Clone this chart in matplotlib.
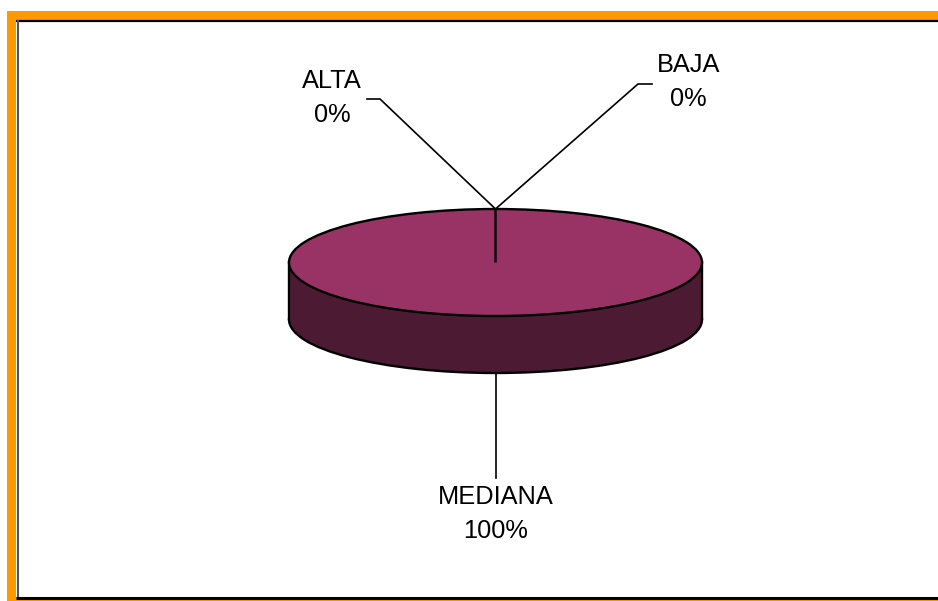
import matplotlib
matplotlib.use("Agg")
import matplotlib.pyplot as plt
from matplotlib.patches import Rectangle

# pie data, clockwise from the top
labels = ["BAJA", "MEDIANA", "ALTA"]
values = [0, 100, 0]
percents = ["0%", "100%", "0%"]

W, H = 938, 601
cx, cy = 495.5, 262.5  # centre of pie top, in pixels
rx, ry = 206.5, 53.5
depth = 57

orange = "#FF9900"
top_color = "#993366"
side_color = "#4D1A33"

fig = plt.figure(figsize=(W / 100, H / 100), dpi=100, facecolor="white")
plt.rcParams["font.family"] = ["Liberation Sans", "DejaVu Sans"]

# frame and leader lines live on an axes in pixel coordinates
bg = fig.add_axes([0, 0, 1, 1], zorder=0)
bg.set(xlim=(0, W), ylim=(H, 0))
bg.axis("off")
bg.add_patch(Rectangle((7, 11), W - 7 + 5, H - 11 + 5, fc=orange, ec="none"))
bg.add_patch(Rectangle((16, 20), W - 16 + 5, 577, fc="white", ec="none"))
bg.plot([16, W + 5], [21, 21], color="black", lw=1.6, solid_capstyle="butt")
bg.plot([17.5, 17.5], [20, 597], color="#555555", lw=1.5, solid_capstyle="butt")
bg.plot([16, W + 5], [598, 598], color="black", lw=2.2, solid_capstyle="butt")

# pie: one data unit is rx pixels across and ry pixels down
pie_ax = fig.add_axes([0, 0, 1, 1], zorder=1)
pie_ax.patch.set_visible(False)
edge = dict(edgecolor="black", linewidth=1.7)
# lower disc gives the rim's bottom curve
pie_ax.pie([1], colors=[side_color], radius=1, center=(0, -depth / ry),
           startangle=90, counterclock=False, wedgeprops=edge, frame=True)
pie_ax.add_patch(Rectangle((-1, -depth / ry), 2, depth / ry, fc=side_color, ec="none", zorder=2))
pie_ax.plot([-1, -1], [0, -depth / ry], color="black", lw=1.7, zorder=3)
pie_ax.plot([1, 1], [0, -depth / ry], color="black", lw=1.7, zorder=3)
wedges, _ = pie_ax.pie(values, colors=[top_color] * 3, radius=1, center=(0, 0),
                       startangle=90, counterclock=False, wedgeprops=edge, frame=True)
for w in wedges:
    w.set_zorder(4)
pie_ax.set_aspect("auto")
pie_ax.set_xlim(-cx / rx, (W - cx) / rx)
pie_ax.set_ylim((cy - H) / ry, cy / ry)
pie_ax.axis("off")

# leader lines
ov = fig.add_axes([0, 0, 1, 1], zorder=2)
ov.set(xlim=(0, W), ylim=(H, 0))
ov.axis("off")
line = dict(color="black", lw=1.2)
ov.plot([652, 638, 495.5], [84, 84, 209], **line)
ov.plot([367, 380, 495.5], [99, 99, 209], **line)
ov.plot([495.5, 495.5], [373, 478], **line)

# labels, name and percent set apart by hand
spots = [(688.5, 64.5, 98.5), (495.5, 497.5, 531.5), (332, 81.5, 114.5)]
for name, pct, (x, y1, y2) in zip(labels, percents, spots):
    ov.text(x, y1, name, ha="center", va="center", fontsize=18.3, color="black")
    ov.text(x, y2, pct, ha="center", va="center", fontsize=18.3, color="black")

fig.savefig("out.png", dpi=100)
